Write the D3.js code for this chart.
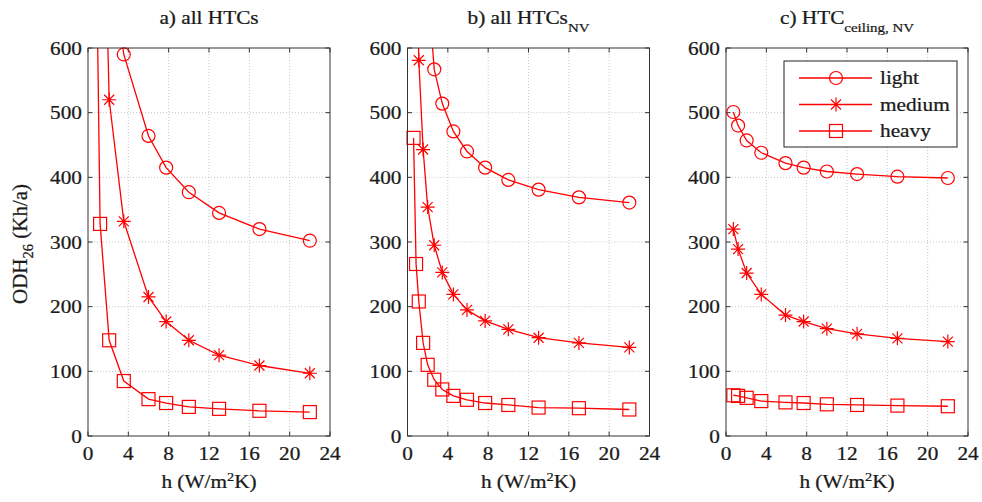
<!DOCTYPE html>
<html>
<head>
<meta charset="utf-8">
<script src="https://cdn.jsdelivr.net/npm/d3@7"></script>
<style>
  body { margin: 0; background: #fff; }
  text { font-family: "Liberation Serif", "Times New Roman", serif; fill: #1a1a1a; stroke: #1a1a1a; stroke-width: 0.25px; }
</style>
</head>
<body>
<div id="chart"></div>
<script>
// h values (W/m2K) of each panel, and ODH26 (Kh/a)
// null = point not reached by the line inside the plot
const hA = [0.75, 1.2, 2.1, 3.55, 6, 7.75, 10, 13, 17, 22];
const lightA = [null, null, 760, 590, 464, 415, 377, 345, 320, 302];
const mediumA = [null, 1100, 520, 332, 215, 177, 148, 125, 109, 97];
const heavyA = [850, 328, 148, 85, 57, 51, 45, 42, 39, 37];

const hB = [0.6, 0.85, 1.12, 1.55, 2.0, 2.65, 3.45, 4.55, 5.9, 7.7, 10, 13, 17, 22];
const lightB = [null, null, null, null, 700, 567, 514, 471, 440, 415, 396, 381, 369, 361];
const mediumB = [null, 850, 581, 443, 354, 295, 253, 219, 195, 178, 165, 152, 144, 137];
const heavyB = [461, 266, 208, 144, 110, 87, 72, 62, 56, 51, 48, 44, 43, 41];

const hC = [0.73, 1.2, 2.05, 3.5, 5.9, 7.7, 10, 13, 17, 22];
const lightC = [501, 480, 457, 438, 422, 415, 409, 405, 401, 399];
const mediumC = [320, 289, 252, 219, 187, 177, 166, 158, 151, 146];
const heavyC = [63, 62, 59, 54, 52, 51, 49, 48, 47, 46];

const seriesNames = ["light", "medium", "heavy"];
const xTicks = [0, 4, 8, 12, 16, 20, 24];
const yTicks = [0, 100, 200, 300, 400, 500, 600];

const panels = [
    { left: 88, title: "a) all HTCs", sub: "", h: hA, values: [lightA, mediumA, heavyA] },
    { left: 407.5, title: "b) all HTCs", sub: "NV", h: hB, values: [lightB, mediumB, heavyB] },
    { left: 726, title: "c) HTC", sub: "ceiling, NV", h: hC, values: [lightC, mediumC, heavyC], legend: true }
];

const W = 982, H = 502;
const plotW = 242, plotTop = 48, plotBottom = 436;
const red = '#ff0000';
const sx = 1.15;   // glyphs in the figure are a little wider than usual
const fs = 18.5;

const svg = d3.select('#chart')
    .append('svg')
    .attr('width', W)
    .attr('height', H);

// text with horizontal stretch, anchored at (x, y)
function label(parent, x, y, anchor, size) {
    return parent.append('text')
        .attr('transform', `translate(${x},${y}) scale(${sx},1)`)
        .attr('text-anchor', anchor)
        .attr('font-size', size);
}

// marker shapes
function marker(g, kind, cx, cy) {
    if (kind === "light") {
        g.append('circle').attr('cx', cx).attr('cy', cy).attr('r', 6.5)
            .attr('fill', 'none').attr('stroke', red).attr('stroke-width', 1.2);
    } else if (kind === "heavy") {
        g.append('rect').attr('x', cx - 6.5).attr('y', cy - 6.5)
            .attr('width', 13).attr('height', 13)
            .attr('fill', 'none').attr('stroke', red).attr('stroke-width', 1.2);
    } else {
        const s = 7, d = 5;
        g.append('path')
            .attr('transform', `translate(${cx},${cy})`)
            .attr('d', `M${-s},0H${s}M0,${-s}V${s}M${-d},${-d}L${d},${d}M${-d},${d}L${d},${-d}`)
            .attr('fill', 'none').attr('stroke', red).attr('stroke-width', 1.2);
    }
}

panels.forEach((p, i) => {
    const x = d3.scaleLinear().domain([0, 24]).range([p.left, p.left + plotW]);
    const y = d3.scaleLinear().domain([0, 600]).range([plotBottom, plotTop]);
    const g = svg.append('g');

    // grid
    g.selectAll('.gx').data(xTicks.slice(1, -1)).enter().append('line')
        .attr('x1', d => x(d)).attr('x2', d => x(d))
        .attr('y1', plotTop).attr('y2', plotBottom)
        .attr('stroke', '#b8b8b8').attr('stroke-width', 0.8).attr('stroke-dasharray', '1,2');
    g.selectAll('.gy').data(yTicks.slice(1, -1)).enter().append('line')
        .attr('y1', d => y(d)).attr('y2', d => y(d))
        .attr('x1', p.left).attr('x2', p.left + plotW)
        .attr('stroke', '#b8b8b8').attr('stroke-width', 0.8).attr('stroke-dasharray', '1,2');

    // ticks inside on all sides
    const tl = 4.5;
    xTicks.forEach(t => {
        g.append('line').attr('x1', x(t)).attr('x2', x(t)).attr('y1', plotBottom).attr('y2', plotBottom - tl).attr('stroke', '#333');
        g.append('line').attr('x1', x(t)).attr('x2', x(t)).attr('y1', plotTop).attr('y2', plotTop + tl).attr('stroke', '#333');
        label(g, x(t), 460, 'middle', fs).text(t);
    });
    yTicks.forEach(t => {
        g.append('line').attr('y1', y(t)).attr('y2', y(t)).attr('x1', p.left).attr('x2', p.left + tl).attr('stroke', '#333');
        g.append('line').attr('y1', y(t)).attr('y2', y(t)).attr('x1', p.left + plotW).attr('x2', p.left + plotW - tl).attr('stroke', '#333');
        label(g, p.left - 6, y(t) + 6.5, 'end', fs).text(t);
    });

    // clip for the curves
    svg.append('clipPath').attr('id', 'clip' + i)
        .append('rect').attr('x', p.left).attr('y', plotTop).attr('width', plotW).attr('height', plotBottom - plotTop);

    const line = d3.line()
        .defined(d => d[1] != null)
        .x(d => x(d[0]))
        .y(d => y(d[1]));

    p.values.forEach((vals, k) => {
        const pts = p.h.map((h, j) => [h, vals[j]]);
        g.append('path')
            .attr('clip-path', `url(#clip${i})`)
            .attr('d', line(pts))
            .attr('fill', 'none')
            .attr('stroke', red)
            .attr('stroke-width', 1.3);
        pts.filter(d => d[1] != null && d[1] <= 600)
            .forEach(d => marker(g, seriesNames[k], x(d[0]), y(d[1])));
    });

    // box
    g.append('rect')
        .attr('x', p.left).attr('y', plotTop)
        .attr('width', plotW).attr('height', plotBottom - plotTop)
        .attr('fill', 'none').attr('stroke', '#333').attr('stroke-width', 1);

    // title
    const t = label(g, p.left + plotW / 2, 24, 'middle', fs);
    t.append('tspan').text(p.title);
    if (p.sub) t.append('tspan').attr('dy', 8).attr('font-size', 13).text(p.sub);

    // x label
    const xl = label(g, p.left + plotW / 2, 488, 'middle', fs);
    xl.append('tspan').text('h (W/m');
    xl.append('tspan').attr('dy', -7).attr('font-size', 12.5).text('2');
    xl.append('tspan').attr('dy', 7).text('K)');

    if (p.legend) {
        const lg = g.append('g');
        lg.append('rect').attr('x', 784).attr('y', 61).attr('width', 173).attr('height', 86)
            .attr('fill', '#fff').attr('stroke', '#222').attr('stroke-width', 1);
        seriesNames.forEach((name, k) => {
            const ly = 78 + k * 26.5;
            lg.append('line').attr('x1', 799).attr('x2', 872).attr('y1', ly).attr('y2', ly)
                .attr('stroke', red).attr('stroke-width', 1.3);
            marker(lg, name, 836, ly);
            label(lg, 880, ly + 6, 'start', fs).text(name);
        });
    }
});

// y label
const yl = svg.append('text')
    .attr('transform', 'translate(27,244) rotate(-90)')
    .attr('text-anchor', 'middle')
    .attr('font-size', 21);
yl.append('tspan').text('ODH');
yl.append('tspan').attr('dy', 6).attr('font-size', 14.5).text('26');
yl.append('tspan').attr('dy', -6).text(' (Kh/a)');
</script>
</body>
</html>
